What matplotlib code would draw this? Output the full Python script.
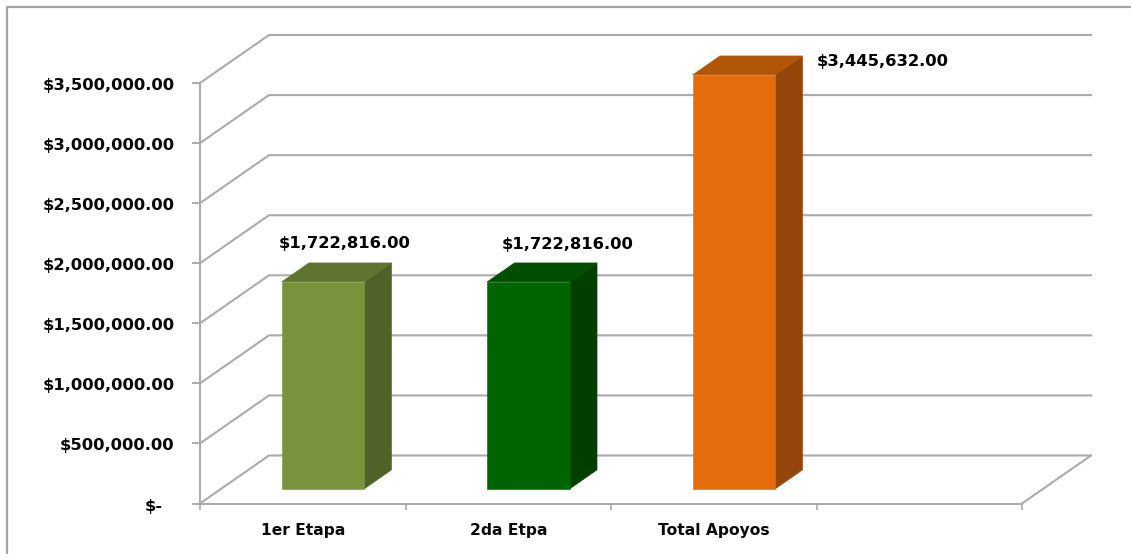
import matplotlib
matplotlib.use("Agg")
import matplotlib.pyplot as plt
from matplotlib.lines import Line2D
from matplotlib.patches import Polygon
from matplotlib.transforms import ScaledTranslation

categories = ["1er Etapa", "2da Etpa", "Total Apoyos", ""]
values = [1722816, 1722816, 3445632]
value_labels = ["$1,722,816.00", "$1,722,816.00", "$3,445,632.00"]
y_ticks = [0, 500000, 1000000, 1500000, 2000000, 2500000, 3000000, 3500000]
y_tick_labels = ["$-", "$500,000.00", "$1,000,000.00", "$1,500,000.00", "$2,000,000.00",
                 "$2,500,000.00", "$3,000,000.00", "$3,500,000.00"]
front_colors = ["#77933C", "#006400", "#E46C0A"]
top_colors = ["#5F752F", "#004F00", "#B15607"]
side_colors = ["#4F6228", "#003F00", "#93450A"]

W, H = 1131, 554
GRID = "#ABABAB"
TXT = "#0A0A0A"
L, R, T, B = 200, 1022, 83, 503.5

fig = plt.figure(figsize=(W / 100, H / 100), dpi=100, facecolor="white")
ax = fig.add_axes([L / W, 1 - B / H, (R - L) / W, (B - T) / H])
ax.set_xlim(0, 4)
ax.set_ylim(0, 3500000)
ax.patch.set_visible(False)

# depth projection: full depth shifts the point by these pixels
dx = 69 / (R - L) * 4
dy = 48 / (B - T) * 3500000


def proj(x, y, d):
    return (x + d * dx, y + d * dy)


# walls and gridlines
for v in y_ticks:
    pts = [proj(0, v, 0), proj(0, v, 1), proj(4, v, 1)]
    ax.plot(*zip(*pts), color=GRID, lw=1.5, clip_on=False, zorder=1, solid_joinstyle="miter")
ax.plot(*zip(proj(4, 0, 0), proj(4, 0, 1)), color=GRID, lw=1.5, clip_on=False, zorder=1)

# 3D bars
d0, d1 = 0.305, 0.70
for i, v in enumerate(values):
    x0, x1 = i + 0.295, i + 0.697
    front = [proj(x0, 0, d0), proj(x1, 0, d0), proj(x1, v, d0), proj(x0, v, d0)]
    top = [proj(x0, v, d0), proj(x1, v, d0), proj(x1, v, d1), proj(x0, v, d1)]
    side = [proj(x1, 0, d0), proj(x1, 0, d1), proj(x1, v, d1), proj(x1, v, d0)]
    for poly, c in ((side, side_colors[i]), (top, top_colors[i]), (front, front_colors[i])):
        ax.add_patch(Polygon(poly, closed=True, facecolor=c, edgecolor=c, lw=0.4,
                             clip_on=False, zorder=3))

# data labels
offsets = [(42, 53.5), (59, 52.5), (169, 28.5)]
for i, v in enumerate(values):
    ax.annotate(value_labels[i], xy=(i + 0.5, v), xytext=(offsets[i][0] * 0.72, offsets[i][1] * 0.72),
                textcoords="offset points", ha="center", va="center", fontsize=11.8,
                fontweight="bold", color="black", zorder=5)

# axes
for s in ("top", "right"):
    ax.spines[s].set_visible(False)
for s in ("left", "bottom"):
    ax.spines[s].set_color(GRID)
    ax.spines[s].set_linewidth(1.5)
ax.set_yticks(y_ticks, y_tick_labels)
ax.tick_params(axis="y", length=5.8, width=1.4, color=GRID, pad=12.5, labelsize=11.75, labelcolor=TXT)
ax.set_xticks(range(5), [""] * 5)
ax.set_xticks([0.5, 1.5, 2.5, 3.5], categories, minor=True)
ax.tick_params(axis="x", which="major", length=4.5, width=1.2, color=GRID)
ax.tick_params(axis="x", which="minor", length=0, pad=14, labelsize=11.2, labelcolor=TXT)
for lab in ax.get_xticklabels(minor=True):
    lab.set_fontweight("bold")
for idx, lab in enumerate(ax.get_yticklabels()):
    lab.set_fontweight("bold")
    # "$-" sits further left and lower than the other labels in the reference
    sx, sy = (-12, -2) if idx == 0 else (0, -1)
    lab.set_transform(lab.get_transform() + ScaledTranslation(sx / 100, sy / 100, fig.dpi_scale_trans))

# outer frame (left and top edges only visible)
fig.add_artist(Line2D([6.7 / W, 6.7 / W, 1], [0, 1 - 6.7 / H, 1 - 6.7 / H], color="#A3A3A3", lw=1.6))

fig.savefig("out.png", dpi=100)
